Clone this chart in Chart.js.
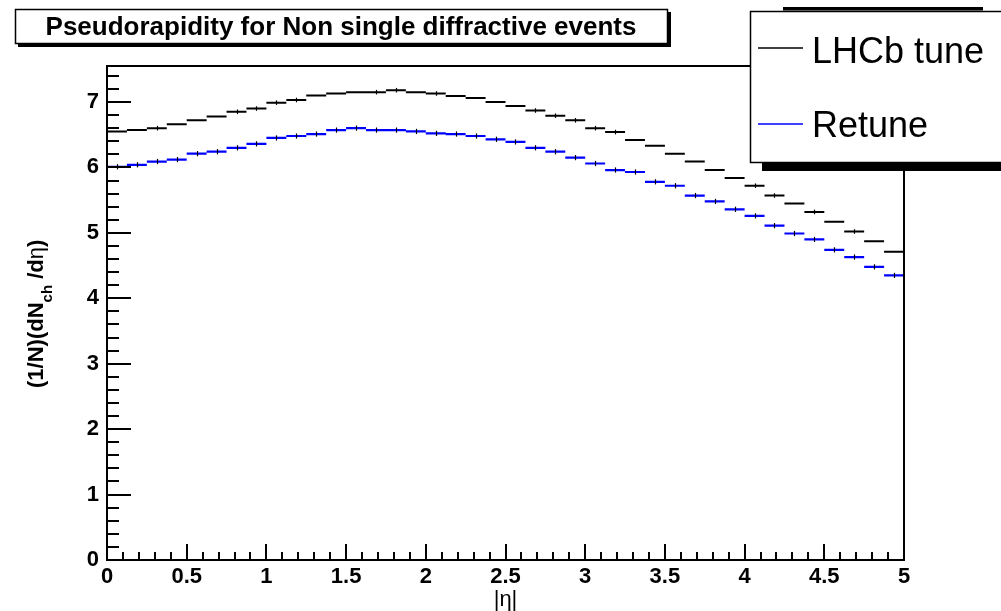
<!DOCTYPE html>
<html>
<head>
<meta charset="utf-8">
<title>Pseudorapidity for Non single diffractive events</title>
<script src="https://cdn.jsdelivr.net/npm/chart.js@4.4.1/dist/chart.umd.min.js"></script>
<style>
  html, body { margin: 0; padding: 0; background: #fff; }
  canvas { display: block; }
</style>
</head>
<body>
<canvas id="etaChart" width="1001" height="611"></canvas>
<script>
/******************************************************************
HISTOGRAM DATA  (40 bins in |eta|, width 0.125)
******************************************************************/

var binLow = [0, 0.125, 0.25, 0.375, 0.5, 0.625, 0.75, 0.875,
              1, 1.125, 1.25, 1.375, 1.5, 1.625, 1.75, 1.875,
              2, 2.125, 2.25, 2.375, 2.5, 2.625, 2.75, 2.875,
              3, 3.125, 3.25, 3.375, 3.5, 3.625, 3.75, 3.875,
              4, 4.125, 4.25, 4.375, 4.5, 4.625, 4.75, 4.875];
var binWidth = 0.125;
var binHigh = 5;

var lhcbTune = [6.55, 6.57, 6.60, 6.66, 6.72, 6.78, 6.85, 6.90,
                6.99, 7.03, 7.10, 7.13, 7.15, 7.15, 7.18, 7.15,
                7.13, 7.09, 7.06, 7.00, 6.94, 6.87, 6.79, 6.72,
                6.60, 6.54, 6.42, 6.33, 6.21, 6.09, 5.96, 5.84,
                5.72, 5.57, 5.45, 5.32, 5.17, 5.02, 4.87, 4.71];
var lhcbErr  = [0, 0, 0.035, 0, 0, 0, 0.035, 0.035,
                0.035, 0.035, 0, 0, 0, 0.035, 0.035, 0,
                0.035, 0, 0, 0, 0, 0.035, 0.035, 0.035,
                0.035, 0.035, 0, 0, 0, 0, 0, 0,
                0.035, 0.035, 0, 0.035, 0, 0.035, 0, 0];

var retune = [6.01, 6.04, 6.09, 6.12, 6.21, 6.24, 6.30, 6.36,
              6.45, 6.48, 6.51, 6.57, 6.60, 6.57, 6.57, 6.55,
              6.52, 6.51, 6.48, 6.43, 6.39, 6.30, 6.24, 6.15,
              6.06, 5.96, 5.93, 5.78, 5.72, 5.57, 5.48, 5.36,
              5.26, 5.11, 4.99, 4.90, 4.74, 4.63, 4.48, 4.35];
var retuneErr = binLow.map(function () { return 0.04; });

var xTicksMajor = 0.5, xTicksMinor = 0.1;
var yTicksMajor = 1,   yTicksMinor = 0.2;
var yMax = 7.55;

var FONT = '"Liberation Sans", Arial, Helvetica, sans-serif';

// one horizontal bar per bin, broken by a null so bins are not joined
function binSegments(vals) {
  var pts = [];
  vals.forEach(function (v, i) {
    pts.push({ x: binLow[i], y: v });
    pts.push({ x: binLow[i] + binWidth, y: v });
    pts.push({ x: binLow[i] + binWidth, y: null });
  });
  return pts;
}

/******************************************************************
ROOT-STYLE DECORATIONS: error ticks, frame, inward ticks, boxes
******************************************************************/

var rootStyle = {
  id: 'rootStyle',

  afterDatasetsDraw: function (chart) {
    var ctx = chart.ctx, xs = chart.scales.x, ys = chart.scales.y;
    var errs = [lhcbErr, retuneErr];
    ctx.save();
    ctx.strokeStyle = '#000';
    ctx.lineWidth = 1.2;
    chart.data.datasets.forEach(function (ds, d) {
      var vals = d === 0 ? lhcbTune : retune;
      vals.forEach(function (v, i) {
        var e = errs[d][i];
        if (!e) return;
        var cx = Math.round(xs.getPixelForValue(binLow[i] + binWidth / 2)) + 0.5;
        ctx.beginPath();
        ctx.moveTo(cx, ys.getPixelForValue(v - e));
        ctx.lineTo(cx, ys.getPixelForValue(v + e));
        ctx.stroke();
      });
    });
    ctx.restore();
  },

  afterDraw: function (chart) {
    var ctx = chart.ctx, a = chart.chartArea;
    var xs = chart.scales.x, ys = chart.scales.y;
    ctx.save();
    ctx.strokeStyle = '#000';
    ctx.lineWidth = 2;

    // frame
    ctx.strokeRect(a.left, a.top, a.right - a.left, a.bottom - a.top);

    // x ticks, pointing up into the frame
    ctx.beginPath();
    for (var i = 0; i <= 50; i++) {
      var xv = i * xTicksMinor;
      var px = Math.round(xs.getPixelForValue(xv));
      var len = (i % 5 === 0) ? 16 : 8;
      ctx.moveTo(px, a.bottom);
      ctx.lineTo(px, a.bottom - len);
    }
    // y ticks, pointing right into the frame
    for (var j = 0; j * yTicksMinor <= yMax; j++) {
      var yv = j * yTicksMinor;
      var py = Math.round(ys.getPixelForValue(yv));
      var l2 = (j % 5 === 0) ? 24 : 12;
      ctx.moveTo(a.left, py);
      ctx.lineTo(a.left + l2, py);
    }
    ctx.stroke();

    // x axis title
    ctx.fillStyle = '#000';
    ctx.font = '22px ' + FONT;
    ctx.textAlign = 'center';
    ctx.textBaseline = 'alphabetic';
    ctx.fillText('|\u03b7|', (a.left + a.right) / 2, 606);

    // y axis title, rotated, with subscript
    ctx.save();
    ctx.translate(43, 388);
    ctx.rotate(-Math.PI / 2);
    ctx.textAlign = 'left';
    var pos = 0;
    function piece(txt, font, dy) {
      ctx.font = font;
      ctx.fillText(txt, pos, dy);
      pos += ctx.measureText(txt).width;
    }
    piece('(1/N)(dN', 'bold 22px ' + FONT, 0);
    piece('ch', 'bold 15px ' + FONT, 9);
    piece(' /d', 'bold 22px ' + FONT, 0);
    piece('\u03b7', '22px ' + FONT, 0);
    piece(')', 'bold 22px ' + FONT, 0);
    ctx.restore();

    // title box with shadow
    ctx.fillStyle = '#000';
    ctx.fillRect(18, 44, 653, 3);
    ctx.fillRect(668, 12, 3, 35);
    ctx.fillStyle = '#fff';
    ctx.fillRect(15, 9, 653, 35);
    ctx.lineWidth = 1.5;
    ctx.strokeRect(15.5, 9.5, 652, 34);
    ctx.fillStyle = '#000';
    ctx.font = 'bold 26px ' + FONT;
    ctx.textAlign = 'center';
    ctx.fillText(chart.options.plugins.title.text, 341, 35);

    // legend box with shadow
    ctx.fillRect(783, 7, 200, 3.5);
    ctx.fillRect(762, 163, 260, 8);
    ctx.fillStyle = '#fff';
    ctx.fillRect(750, 11, 270, 152);
    ctx.strokeRect(750.5, 11.5, 270, 151);
    var rows = [63, 137], lineY = [48, 124];
    chart.data.datasets.forEach(function (ds, d) {
      ctx.strokeStyle = ds.borderColor;
      ctx.lineWidth = 1.5;
      ctx.beginPath();
      ctx.moveTo(758, lineY[d]);
      ctx.lineTo(803, lineY[d]);
      ctx.stroke();
      ctx.fillStyle = '#000';
      ctx.font = '36px ' + FONT;
      ctx.textAlign = 'left';
      ctx.fillText(ds.label, 812, rows[d]);
    });
    ctx.restore();
  }
};

/******************************************************************
CHART
******************************************************************/

function plainNumber(value) { return String(value); }

var ctx = document.getElementById('etaChart').getContext('2d');
var chart = new Chart(ctx, {
  type: 'line',
  data: {
    datasets: [{
      label: 'LHCb tune',
      data: binSegments(lhcbTune),
      borderColor: '#000000',
      borderWidth: 2,
      spanGaps: false,
      pointRadius: 0,
      fill: false
    }, {
      label: 'Retune',
      data: binSegments(retune),
      borderColor: '#0000ff',
      borderWidth: 2.2,
      spanGaps: false,
      pointRadius: 0,
      fill: false
    }]
  },
  options: {
    responsive: false,
    devicePixelRatio: 1,
    animation: false,
    layout: { padding: { top: 66, right: 97, left: 0, bottom: 0 } },
    scales: {
      x: {
        type: 'linear',
        min: 0,
        max: binHigh,
        grid: { display: false, drawTicks: false },
        border: { display: false },
        ticks: {
          stepSize: xTicksMajor,
          autoSkip: false,
          maxRotation: 0,
          padding: 4,
          color: '#000',
          callback: plainNumber,
          font: { family: FONT, size: 22, weight: 'bold' }
        },
        afterFit: function (s) { s.height = 51; }
      },
      y: {
        min: 0,
        max: yMax,
        grid: { display: false, drawTicks: false },
        border: { display: false },
        ticks: {
          stepSize: yTicksMajor,
          includeBounds: false,
          padding: 8,
          color: '#000',
          callback: plainNumber,
          font: { family: FONT, size: 22, weight: 'bold' }
        },
        afterFit: function (s) { s.width = 107; }
      }
    },
    plugins: {
      legend: { display: false },
      tooltip: { enabled: false },
      title: { display: false, text: 'Pseudorapidity for Non single diffractive events' }
    }
  },
  plugins: [rootStyle]
});
</script>
</body>
</html>
